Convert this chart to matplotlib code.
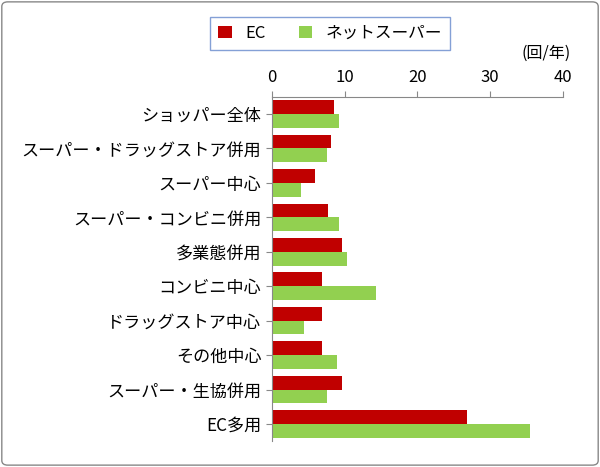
import matplotlib
matplotlib.use("Agg")
import matplotlib.pyplot as plt
import numpy as np
from matplotlib.patches import FancyBboxPatch

plt.rcParams["font.family"] = "Noto Sans CJK JP"

categories = ["ショッパー全体", "スーパー・ドラッグストア併用", "スーパー中心", "スーパー・コンビニ併用",
              "多業態併用", "コンビニ中心", "ドラッグストア中心", "その他中心", "スーパー・生協併用", "EC多用"]
ec = [8.5, 8.1, 5.9, 7.7, 9.6, 6.9, 6.9, 6.9, 9.6, 26.9]
net = [9.3, 7.6, 4.0, 9.3, 10.3, 14.3, 4.4, 8.9, 7.6, 35.5]
ticks = [0, 10, 20, 30, 40]

fig = plt.figure(figsize=(6, 4.67), dpi=100)
fig.patches.append(FancyBboxPatch((0.003, 0.004), 0.994, 0.992, boxstyle="round,pad=0,rounding_size=0.01",
                                  transform=fig.transFigure, fill=False, edgecolor="#888888", lw=1))
ax = fig.add_axes([0.453, 0.055, 0.485, 0.738])
y = np.arange(len(categories))
h = 0.4
ax.barh(y - h/2, ec, h, color="#C00000", label="EC")
ax.barh(y + h/2, net, h, color="#92D050", label="ネットスーパー")
ax.set_ylim(len(categories) - 0.5, -0.5)
ax.set_xlim(0, 40)
ax.set_xticks(ticks)
ax.xaxis.tick_top()
ax.set_yticks(y)
ax.set_yticklabels(categories, fontsize=12.3)
ax.tick_params(axis="x", labelsize=12, length=4, color="#888888")
ax.tick_params(axis="y", length=4, color="#888888")
for s in ["right", "bottom"]:
    ax.spines[s].set_visible(False)
for s in ["left", "top"]:
    ax.spines[s].set_color("#888888")
fig.text(0.91, 0.885, "(回/年)", fontsize=11.5, ha="center", va="center")
leg = fig.legend(loc="center", bbox_to_anchor=(0.55, 0.928), ncol=2, fontsize=12,
                 frameon=True, fancybox=False, edgecolor="#6688CC", handlelength=0.8, columnspacing=2.0,
                 borderpad=0.5)
fig.savefig("out.png", dpi=100)
